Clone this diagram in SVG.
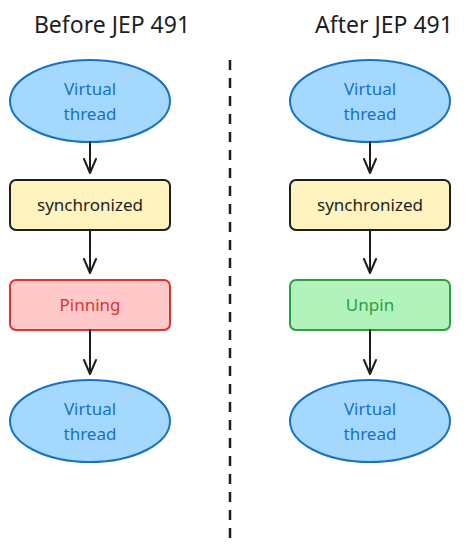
<svg xmlns="http://www.w3.org/2000/svg" width="468" height="549" viewBox="0 0 468 549">
<style>
text{font-family:"Noto Sans","Open Sans",sans-serif;text-anchor:middle}
.title{font-size:23px;fill:#1e1e1e}
.ell{fill:#a5d8ff;stroke:#1971c2;stroke-width:2}
.et{font-size:17px;fill:#1971c2}
.sync{fill:#fff3bf;stroke:#1e1e1e;stroke-width:2}
.st{font-size:17px;fill:#1e1e1e}
.pin{fill:#ffc9c9;stroke:#e03131;stroke-width:2}
.pt{font-size:17px;fill:#e03131}
.unp{fill:#b2f2bb;stroke:#2f9e44;stroke-width:2}
.ut{font-size:17px;fill:#2f9e44}
.conn{stroke:#1e1e1e;stroke-width:2;fill:none;stroke-linecap:round;stroke-linejoin:round}
</style>
<rect width="468" height="549" fill="#ffffff"/>
<text class="title" x="112" y="33">Before JEP 491</text>
<text class="title" x="384" y="33">After JEP 491</text>
<line x1="230" y1="60" x2="230" y2="538" stroke="#1e1e1e" stroke-width="2.5" stroke-dasharray="10 8"/>
<g id="left-vt1"><ellipse class="ell" cx="90" cy="101" rx="80" ry="41"/><text class="et" x="90" y="95">Virtual</text><text class="et" x="90" y="120">thread</text></g>
<g id="left-sync"><rect class="sync" x="10" y="180" width="160" height="50" rx="6"/><text class="st" x="90" y="211">synchronized</text></g>
<g id="left-pin"><rect class="pin" x="10" y="280" width="160" height="50" rx="6"/><text class="pt" x="90" y="311">Pinning</text></g>
<g id="left-vt2"><ellipse class="ell" cx="90" cy="421" rx="80" ry="41"/><text class="et" x="90" y="415">Virtual</text><text class="et" x="90" y="440">thread</text></g>
<g id="right-vt1"><ellipse class="ell" cx="370" cy="101" rx="80" ry="41"/><text class="et" x="370" y="95">Virtual</text><text class="et" x="370" y="120">thread</text></g>
<g id="right-sync"><rect class="sync" x="290" y="180" width="160" height="50" rx="6"/><text class="st" x="370" y="211">synchronized</text></g>
<g id="right-unpin"><rect class="unp" x="290" y="280" width="160" height="50" rx="6"/><text class="ut" x="370" y="311">Unpin</text></g>
<g id="right-vt2"><ellipse class="ell" cx="370" cy="421" rx="80" ry="41"/><text class="et" x="370" y="415">Virtual</text><text class="et" x="370" y="440">thread</text></g>
<g id="connectors">
<path class="conn" d="M90 142V173M84 159L90 173L96 159"/>
<path class="conn" d="M90 230V273M84 259L90 273L96 259"/>
<path class="conn" d="M90 330V374M84 360L90 374L96 360"/>
<path class="conn" d="M370 142V173M364 159L370 173L376 159"/>
<path class="conn" d="M370 230V273M364 259L370 273L376 259"/>
<path class="conn" d="M370 330V374M364 360L370 374L376 360"/>
</g>
</svg>
